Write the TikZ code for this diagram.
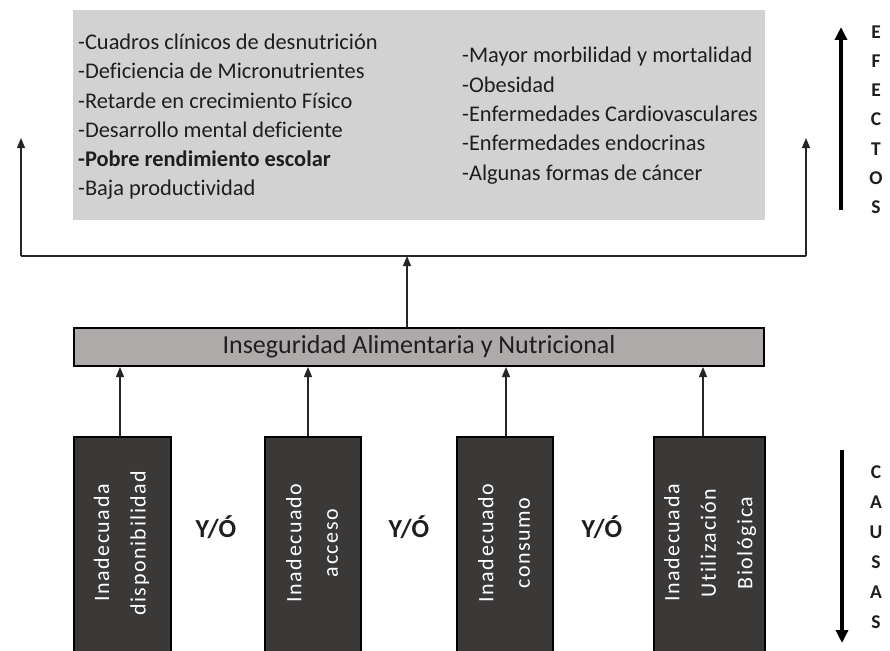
\documentclass[tikz,border=0pt]{standalone}
\usepackage{fontspec}
\setmainfont{Carlito}[Ligatures=NoCommon]
\newfontfamily\spacedfont{Carlito}[LetterSpace=7,Ligatures=NoCommon]
\usetikzlibrary{arrows.meta,calc}
\definecolor{topgray}{HTML}{D3D2D2}
\definecolor{midgray}{HTML}{AEAAAA}
\definecolor{darkbox}{HTML}{3B3838}
\definecolor{txt}{HTML}{1E1E1E}
\begin{document}
\begin{tikzpicture}[x=1pt,y=-1pt,
  arr/.style={draw=black!85, line width=1.1pt, -{Triangle[length=10pt,width=8pt]}},
  bigarr/.style={draw=black, line width=3.4pt, -{Triangle[length=13pt,width=12pt]}},
  topbox/.style={fill=topgray, draw=none, anchor=north west, minimum width=692pt, minimum height=210pt, inner sep=0pt},
  itemtxt/.style={anchor=base west, inner sep=0pt, text=txt, font=\fontsize{22.4}{26}\selectfont},
  insbox/.style={fill=midgray, draw=black, line width=2pt, anchor=north west, minimum width=690pt, minimum height=38pt, inner sep=0pt, text=txt, font=\fontsize{26}{30}\selectfont},
  causebox/.style={fill=darkbox, draw=black, line width=2pt, anchor=north west, minimum height=220pt, inner sep=0pt},
  causetxt/.style={rotate=90, align=center, text=white, inner sep=0pt, font=\spacedfont\fontsize{22}{36.5}\selectfont},
  yo/.style={font=\bfseries\fontsize{26}{30}\selectfont, text=txt, inner sep=0pt},
  letter/.style={font=\bfseries\fontsize{19.5}{22}\selectfont, text=txt, inner sep=0pt}
]
\useasboundingbox (0,0) rectangle (890,650);
\clip (0,0) rectangle (890,650);
\fill[white] (0,0) rectangle (890,650);

% effects box
\node[topbox] (effects) at (73,10) {};
\foreach \t [count=\i] in {-Cuadros clínicos de desnutrición,-Deficiencia de Micronutrientes,-Retarde en crecimiento Físico,-Desarrollo mental deficiente,\textbf{-Pobre rendimiento escolar},-Baja productividad}
  \node[itemtxt] (l\i) at (78,{50+29*(\i-1)}) {\t};
\foreach \t [count=\i] in {-Mayor morbilidad y mortalidad,-Obesidad,-Enfermedades Cardiovasculares,-Enfermedades endocrinas,-Algunas formas de cáncer}
  \node[itemtxt] (r\i) at (462,{63+29.3*(\i-1)}) {\t};

% distribution line
\coordinate (hl) at (21,256);
\coordinate (hr) at (806,256);
\coordinate (hm) at (407,256);
\coordinate (tl) at (21,138);
\coordinate (tr) at (806,138);
\draw[black!85, line width=1.1pt] (hl) -- (hr);
\draw[arr] (hl) -- (tl);
\draw[arr] (hr) -- (tr);

% central box
\node[insbox] (ins) at (73,327) {Inseguridad Alimentaria y Nutricional};
\draw[arr] (ins.north -| hm) -- (hm);

% causes
\node[causebox, minimum width=97pt] (c1) at (73,436) {};
\node[causebox, minimum width=96pt] (c2) at (264,436) {};
\node[causebox, minimum width=96pt] (c3) at (456,436) {};
\node[causebox, minimum width=111pt] (c4) at (653,436) {};

\node[causetxt] (t1) at (121.5,543) {Inadecuada\\disponibilidad};
\node[causetxt] (t2) at (312,543) {Inadecuado\\acceso};
\node[causetxt] (t3) at (504,543) {Inadecuado\\consumo};
\node[causetxt] (t4) at (710,543) {Inadecuada\\Utilización\\Biológica};

\draw[arr] ($(c1.north)+(-2.5,0)$) -- ($(c1.north |- ins.south)+(-2.5,0)$);
\draw[arr] ($(c2.north)+(-5,0)$) -- ($(c2.north |- ins.south)+(-5,0)$);
\draw[arr] ($(c3.north)+(1,0)$) -- ($(c3.north |- ins.south)+(1,0)$);
\draw[arr] ($(c4.north)+(-6.5,0)$) -- ($(c4.north |- ins.south)+(-6.5,0)$);

\node[yo] (y1) at (216,527) {Y/Ó};
\node[yo] (y2) at (409,527) {Y/Ó};
\node[yo] (y3) at (602,527) {Y/Ó};

% side arrows
\coordinate (ea) at (841,210);
\coordinate (eb) at (841,27);
\draw[bigarr] (ea) -- (eb);
\foreach \c [count=\i] in {E,F,E,C,T,O,S}
  \node[letter] (e\i) at (876,{32+29.2*(\i-1)}) {\c};
\coordinate (ca) at (842,450);
\coordinate (cb) at (842,643);
\draw[bigarr] (ca) -- (cb);
\foreach \c [count=\i] in {C,A,U,S,A,S}
  \node[letter] (k\i) at (876,{472+30*(\i-1)}) {\c};
\end{tikzpicture}
\end{document}
